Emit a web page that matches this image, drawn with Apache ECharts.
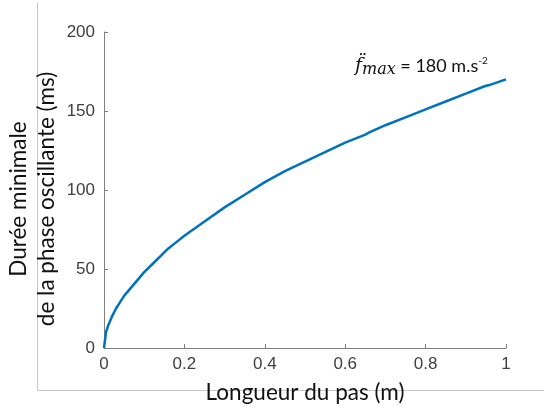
<!DOCTYPE html>
<html>
<head>
<meta charset="utf-8">
<script src="https://cdn.jsdelivr.net/npm/echarts@6/dist/echarts.min.js"></script>
<style>
    html, body { margin: 0; padding: 0; background: #fff; }
    #chart { width: 544px; height: 412px; }
</style>
</head>
<body>
<div id="chart"></div>
<script>
// longueur du pas (m)
var longueur = [0, 0.005, 0.01, 0.02, 0.03, 0.04, 0.05, 0.06, 0.08, 0.1, 0.12, 0.14, 0.16, 0.18, 0.2,
    0.25, 0.3, 0.35, 0.4, 0.45, 0.5, 0.55, 0.6, 0.65, 0.66, 0.7, 0.75, 0.8, 0.85, 0.9, 0.95, 0.96, 1.0]
// durée minimale (ms)
var duree = [0, 10, 14, 20, 25, 29, 33, 36, 42, 48, 53, 58, 63, 67, 71,
    80, 89, 97, 105, 112, 118, 124, 130, 135, 136.5, 141, 146, 151, 156, 161, 166, 166.5, 170]
var xTicks = [0, 0.2, 0.4, 0.6, 0.8, 1]
var yTicks = [0, 50, 100, 150, 200]

var points = longueur.map(function (x, i) { return [x, duree[i]] })

var chart = echarts.init(document.getElementById('chart'))

var axisText = { color: '#404040', fontSize: 17, fontFamily: 'Liberation Sans' }

var option = {
    animation: false,
    grid: { left: 104, right: 38, top: 32, bottom: 64, containLabel: false, outerBoundsMode: 'none' },
    xAxis: {
        type: 'value',
        min: xTicks[0],
        max: xTicks[xTicks.length - 1],
        interval: 0.2,
        name: 'Longueur du pas (m)',
        nameLocation: 'middle',
        nameGap: 33,
        nameMoveOverlap: false,
        nameTextStyle: { color: '#111', fontSize: 22.5, fontFamily: 'Lato' },
        axisLine: { lineStyle: { color: '#808080', width: 1 } },
        axisTick: { inside: true, length: 4, lineStyle: { color: '#808080' } },
        axisLabel: Object.assign({ margin: 8 }, axisText),
        splitLine: { show: false }
    },
    yAxis: {
        type: 'value',
        min: yTicks[0],
        max: yTicks[yTicks.length - 1],
        interval: 50,
        name: 'Durée minimale\nde la phase oscillante (ms)',
        nameLocation: 'middle',
        nameGap: 43,
        nameMoveOverlap: false,
        nameTextStyle: { color: '#111', fontSize: 22.5, fontFamily: 'Lato', lineHeight: 28, padding: [0, 18, 0, 0] },
        axisLine: { show: true, lineStyle: { color: '#808080', width: 1 } },
        axisTick: { show: true, inside: true, length: 4, lineStyle: { color: '#808080' } },
        axisLabel: Object.assign({ margin: 9 }, axisText),
        splitLine: { show: false }
    },
    graphic: [
        {
            type: 'polyline',
            silent: true,
            shape: { points: [[37.5, 3], [37.5, 390.5], [544, 390.5]] },
            style: { stroke: '#c8c8c8', lineWidth: 1, fill: null }
        },
        {
            type: 'text',
            left: 355,
            top: 56,
            style: {
                text: '{f|f\u0308}{sub|max}{n| = 180 m.s}{sup|-2}',
                rich: {
                    f: { fontFamily: 'DejaVu Serif', fontStyle: 'italic', fontSize: 19, fill: '#111', color: '#111' },
                    sub: { fontFamily: 'DejaVu Serif', fontStyle: 'italic', fontSize: 16, fill: '#111', color: '#111', padding: [8, 0, 0, 0] },
                    n: { fontFamily: 'Lato', fontSize: 18, fill: '#111', color: '#111' },
                    sup: { fontFamily: 'Lato', fontSize: 10, fill: '#111', color: '#111', padding: [0, 0, 10, 0] }
                }
            }
        }
    ],
    series: [
        {
            type: 'line',
            data: points,
            showSymbol: false,
            smooth: false,
            lineStyle: { color: '#0072BD', width: 2.5 },
            itemStyle: { color: '#0072BD' }
        }
    ]
}

chart.setOption(option)
</script>
</body>
</html>
